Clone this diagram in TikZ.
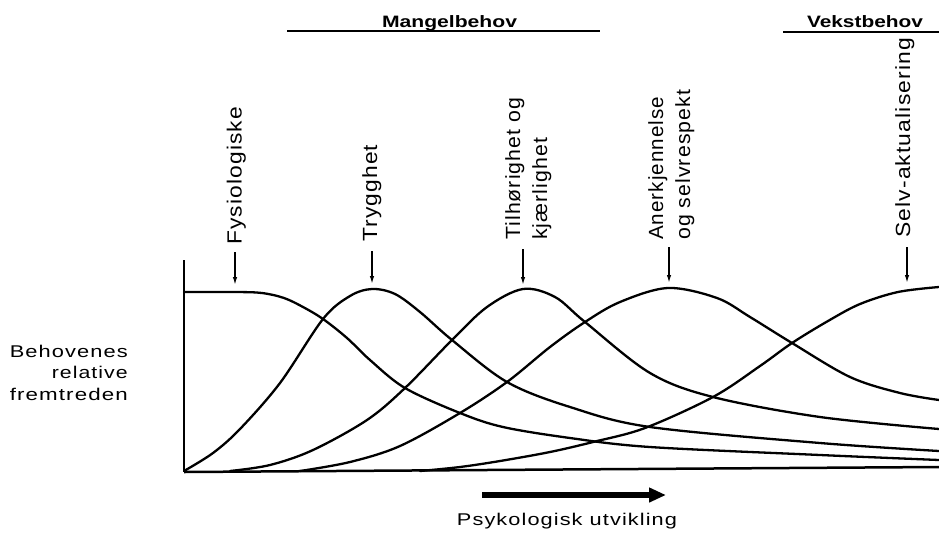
\documentclass[tikz,border=0pt]{standalone}
\usepackage{fontspec}
\usepackage{graphicx}
\setmainfont{Liberation Sans}
\newfontfamily\lab[LetterSpace=5]{Liberation Sans}
\newfontfamily\hdr{Liberation Sans}
\newcommand\fitw[2]{\resizebox{#1}{\height}{#2}}
\usetikzlibrary{arrows.meta}
\begin{document}
\begin{tikzpicture}[x=1pt,y=-1pt,
  curve/.style={line width=2.3pt, line join=round, line cap=round},
  axisline/.style={line width=2.8pt},
  needarrow/.style={line width=1.4pt, -{Latex[length=8pt,width=4.5pt]}},
  hline/.style={line width=1.5pt},
  bigarrow/.style={line width=5.5pt, -{Triangle[length=17pt,width=14pt]}},
  txt/.style={inner sep=0pt, font=\lab\fontsize{17}{22}\selectfont},
  rtxt/.style={inner sep=0pt, rotate=90, anchor=base west, font=\lab\fontsize{20.5}{24}\selectfont},
  htxt/.style={inner sep=0pt, anchor=base, font=\hdr\bfseries\fontsize{16.5}{20}\selectfont}]
\useasboundingbox (0,0) rectangle (939,536);
\fill[white] (0,0) rectangle (939,536);

% axes
\coordinate (ytop) at (184,260);
\coordinate (orig) at (184,472);
\coordinate (xend) at (939,467);
\draw[axisline] (ytop) -- (orig);
\draw[line width=2.5pt] (orig) -- (xend);

% curves
\draw[curve] plot[smooth, tension=0.55] coordinates {(184,292) (235,292) (262,293) (284,298) (303,307) (323,319) (347,338) (370,360) (405,388) (460,413) (503,427) (570,438) (650,447) (820,455) (939,460)};
\draw[curve] plot[smooth, tension=0.55] coordinates {(184,471) (213,453) (240,429) (280,383) (323,319) (350,296) (372,289) (395,294) (420,312) (452,340) (507,382) (570,407) (650,427) (820,443) (939,451)};
\draw[curve] plot[smooth, tension=0.55] coordinates {(230,471) (270,465) (313,450) (367,420) (405,388) (452,340) (487,307) (523,289) (555,297) (585,322) (650,373) (713,397) (820,417) (939,429)};
\draw[curve] plot[smooth, tension=0.55] coordinates {(300,471) (350,462) (400,446) (460,413) (507,382) (550,347) (585,322) (620,302) (668,288) (717,298) (750,317) (792,343) (850,377) (900,393) (939,400)};
\draw[curve] plot[smooth, tension=0.55] coordinates {(420,471) (460,467) (500,461) (550,452) (593,442) (645,428) (713,397) (760,366) (792,343) (828,321) (860,304) (898,292) (939,287)};

% headers
\node[htxt] (mangel) at (449.5,27) {\fitw{135pt}{Mangelbehov}};
\coordinate (m1) at (287,31);
\coordinate (m2) at (600,31);
\draw[hline] (m1) -- (m2);
\node[htxt] (vekst) at (865,27) {\fitw{116pt}{Vekstbehov}};
\coordinate (v1) at (783,32);
\coordinate (v2) at (939,32);
\draw[hline] (v1) -- (v2);

% rotated labels
\node[rtxt] (fys) at (241.5,245) {\fitw{138pt}{Fysiologiske}};
\node[rtxt] (tryg) at (377,242) {\fitw{97pt}{Trygghet}};
\node[rtxt] (til1) at (520,240) {\fitw{142pt}{Tilhørighet og}};
\node[rtxt] (til2) at (547,240) {\fitw{102pt}{kjærlighet}};
\node[rtxt] (ane1) at (663,240) {\fitw{143pt}{Anerkjennelse}};
\node[rtxt] (ane2) at (690,240) {\fitw{150pt}{og selvrespekt}};
\node[rtxt] (selv) at (910,238) {\fitw{200pt}{Selv-aktualisering}};

% need arrows
\coordinate (a1s) at (235,252); \coordinate (a1e) at (235,285);
\coordinate (a2s) at (372,251); \coordinate (a2e) at (372,284);
\coordinate (a3s) at (523,249); \coordinate (a3e) at (523,285);
\coordinate (a4s) at (669,247); \coordinate (a4e) at (669,283);
\coordinate (a5s) at (907,247); \coordinate (a5e) at (907,283);
\draw[needarrow] (a1s) -- (a1e);
\draw[needarrow] (a2s) -- (a2e);
\draw[needarrow] (a3s) -- (a3e);
\draw[needarrow] (a4s) -- (a4e);
\draw[needarrow] (a5s) -- (a5e);

% y label
\node[txt, anchor=base east] (ylab1) at (128,357) {\fitw{118pt}{Behovenes}};
\node[txt, anchor=base east] (ylab2) at (128,378) {\fitw{76pt}{relative}};
\node[txt, anchor=base east] (ylab3) at (128,400) {\fitw{118pt}{fremtreden}};

% x arrow
\coordinate (pa1) at (482,495);
\coordinate (pa2) at (666,495);
\draw[bigarrow] (pa1) -- (pa2);
\node[txt, anchor=base] (xlab) at (567,525) {\fitw{220pt}{Psykologisk utvikling}};
\end{tikzpicture}
\end{document}
